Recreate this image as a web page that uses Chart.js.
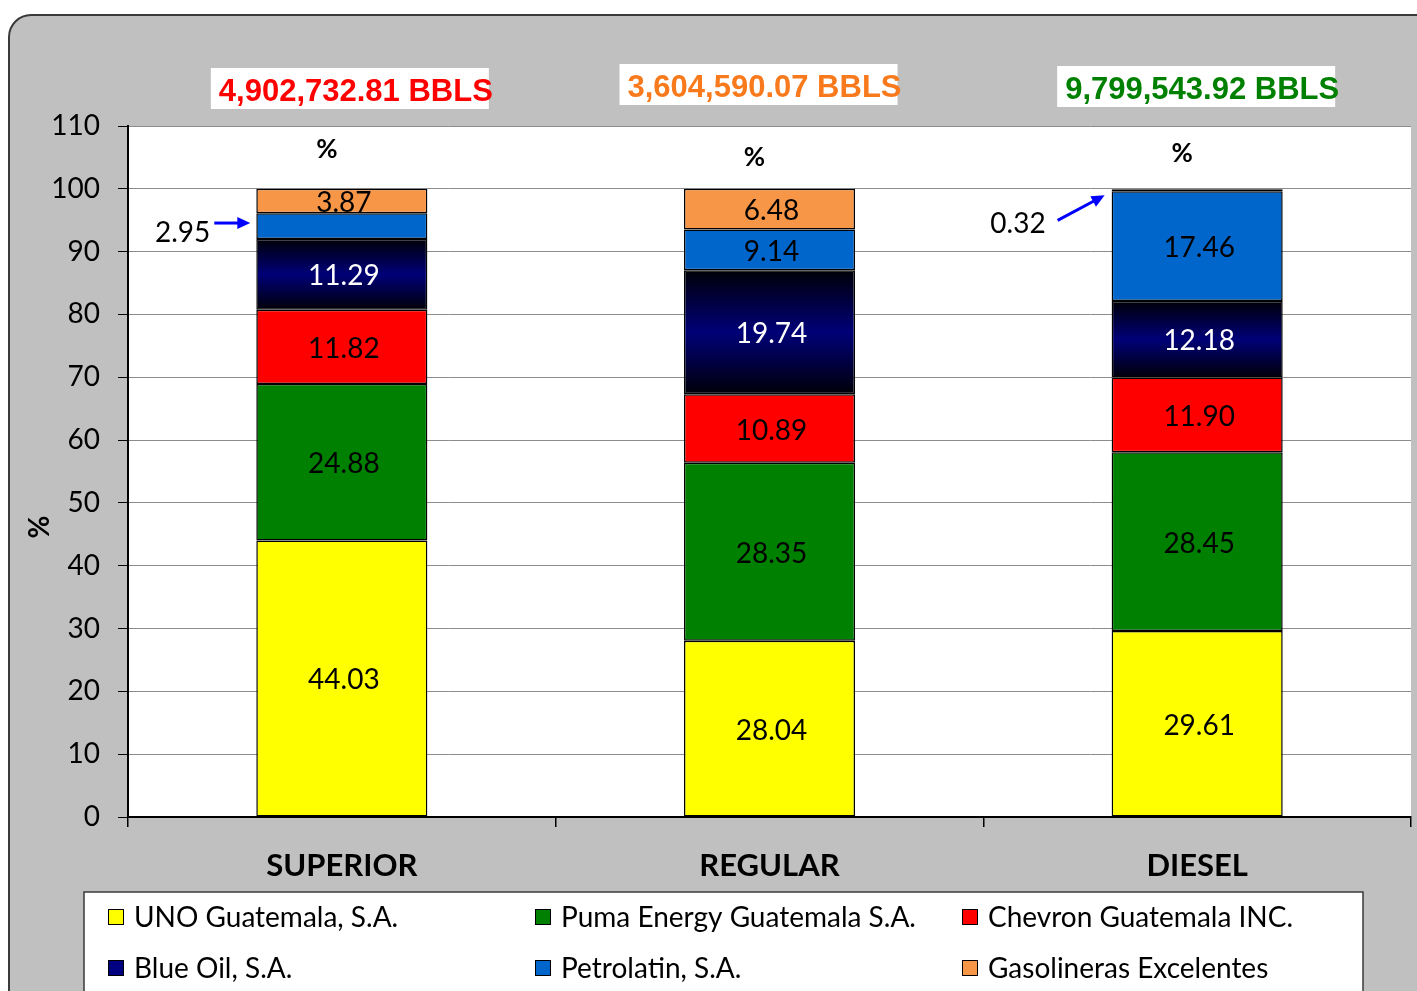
<!DOCTYPE html>
<html>
<head>
<meta charset="utf-8">
<script src="https://cdn.jsdelivr.net/npm/chart.js@4.4.0/dist/chart.umd.min.js"></script>
<style>
  html, body { margin: 0; padding: 0; background: #fff; }
  #wrap { width: 1417px; height: 991px; }
</style>
</head>
<body>
<div id="wrap"><canvas id="c" width="1417" height="991"></canvas></div>
<script>
// ---------- data ----------
const categories = ['SUPERIOR', 'REGULAR', 'DIESEL'];
const volumes = ['4,902,732.81 BBLS', '3,604,590.07 BBLS', '9,799,543.92 BBLS'];
const volumeColors = ['#ff0000', '#f97a1c', '#008000'];

const companies = ['UNO Guatemala, S.A.', 'Puma Energy Guatemala S.A.', 'Chevron Guatemala INC.',
                   'Blue Oil, S.A.', 'Petrolatin, S.A.', 'Gasolineras Excelentes'];
const colors = ['#ffff00', '#008000', '#ff0000', '#000080', '#0066cc', '#f79646'];

const uno         = [44.03, 28.04, 29.61];
const puma        = [24.88, 28.35, 28.45];
const chevron     = [11.82, 10.89, 11.90];
const blueOil     = [11.29, 19.74, 12.18];
const petrolatin  = [4.11, 6.50, 17.46];
const gasolineras = [3.87, 6.48, 0.32];

// printed label for petrolatin differs from drawn height in the source sheet
const petrolatinLabels = ['2.95', '9.14', '17.46'];

const FONT = 'Lato, "Open Sans", sans-serif';

// segments whose label sits outside with an arrow: [dataset, index]
const callouts = [[4, 0], [5, 2]];

function navyGradient(ctx) {
    const chart = ctx.chart;
    const y = chart.scales && chart.scales.y;
    if (!y || ctx.type !== 'data') return '#000080';
    let base = 0;
    for (let d = 0; d < ctx.datasetIndex; d++) base += chart.data.datasets[d].data[ctx.dataIndex];
    const top = y.getPixelForValue(base + ctx.raw);
    const bot = y.getPixelForValue(base);
    if (!isFinite(top) || !isFinite(bot) || top === bot) return '#000080';
    const g = chart.ctx.createLinearGradient(0, top, 0, bot);
    g.addColorStop(0, '#000008');
    g.addColorStop(0.5, '#000078');
    g.addColorStop(1, '#000008');
    return g;
}

const series = [uno, puma, chevron, blueOil, petrolatin, gasolineras];
const datasets = series.map((vals, i) => ({
    label: companies[i],
    data: vals,
    backgroundColor: i === 3 ? navyGradient : colors[i],
    borderColor: '#000',
    borderWidth: 1.5,
    borderSkipped: false,
    categoryPercentage: 0.4,
    barPercentage: 1
}));

// ---------- plugin for the extra drawing ----------
const decor = {
    id: 'decor',
    beforeDraw(chart) {
        const c = chart.ctx, a = chart.chartArea;
        c.save();
        c.fillStyle = '#fff';
        c.fillRect(0, 0, chart.width, chart.height);
        c.beginPath();
        c.roundRect(9, 15, 1460, 1040, 22);
        c.fillStyle = '#c0c0c0';
        c.fill();
        c.lineWidth = 2;
        c.strokeStyle = '#3a3a3a';
        c.stroke();
        c.fillStyle = '#fff';
        c.fillRect(a.left, a.top, a.right - a.left, a.bottom - a.top);
        c.restore();
    },
    afterDatasetsDraw(chart) {
        const c = chart.ctx;
        c.save();
        c.textAlign = 'center';
        c.textBaseline = 'middle';
        c.font = '28px ' + FONT;
        chart.data.datasets.forEach((ds, di) => {
            const meta = chart.getDatasetMeta(di);
            meta.data.forEach((bar, i) => {
                if (callouts.some(p => p[0] === di && p[1] === i)) return;
                const txt = di === 4 ? petrolatinLabels[i] : ds.data[i].toFixed(2);
                c.fillStyle = di === 3 ? '#fff' : '#000';
                c.fillText(txt, bar.x + 2, (bar.y + bar.base) / 2 + 2);
            });
        });

        // callouts with blue arrows
        const arrow = (x1, y1, x2, y2) => {
            const ang = Math.atan2(y2 - y1, x2 - x1);
            c.strokeStyle = '#0000ff';
            c.fillStyle = '#0000ff';
            c.lineWidth = 3;
            c.beginPath();
            c.moveTo(x1, y1);
            c.lineTo(x2 - 10 * Math.cos(ang), y2 - 10 * Math.sin(ang));
            c.stroke();
            c.beginPath();
            c.moveTo(x2, y2);
            c.lineTo(x2 - 13 * Math.cos(ang) + 6 * Math.sin(ang), y2 - 13 * Math.sin(ang) - 6 * Math.cos(ang));
            c.lineTo(x2 - 13 * Math.cos(ang) - 6 * Math.sin(ang), y2 - 13 * Math.sin(ang) + 6 * Math.cos(ang));
            c.closePath();
            c.fill();
        };
        c.textAlign = 'right';
        // Superior - Petrolatin
        let bar = chart.getDatasetMeta(4).data[0];
        let left = bar.x - bar.width / 2, mid = (bar.y + bar.base) / 2;
        arrow(left - 42, mid - 3, left - 6, mid - 3);
        c.fillStyle = '#000';
        c.fillText(petrolatinLabels[0], left - 46, mid + 7);
        // Diesel - Gasolineras
        bar = chart.getDatasetMeta(5).data[2];
        left = bar.x - bar.width / 2; mid = (bar.y + bar.base) / 2;
        arrow(left - 54, mid + 30, left - 7, mid + 5);
        c.fillStyle = '#000';
        c.fillText(gasolineras[2].toFixed(2), left - 66, mid + 34);
        c.restore();
    },
    afterDraw(chart) {
        const c = chart.ctx, x = chart.scales.x;
        c.save();
        c.textAlign = 'center';
        c.textBaseline = 'middle';
        // volume headers on white boxes
        const shift = [14, -5, 5];
        categories.forEach((cat, i) => {
            c.font = 'bold 31px "Liberation Sans", Arial, sans-serif';
            const cx = x.getPixelForValue(i) + shift[i];
            const w = c.measureText(volumes[i]).width;
            const cy = [89, 85, 87][i];
            c.fillStyle = '#fff';
            c.fillRect(cx - w / 2 - 8, cy - 21, w + 4, 41);
            c.fillStyle = volumeColors[i];
            c.fillText(volumes[i], cx, cy + 3);
            // % over each bar
            c.fillStyle = '#000';
            c.font = 'bold 26px ' + FONT;
            c.fillText('%', x.getPixelForValue(i) - 15, [150, 158, 154][i]);
        });
        // y axis title
        c.save();
        c.translate(40, 527);
        c.rotate(-Math.PI / 2);
        c.font = 'bold 28px ' + FONT;
        c.fillStyle = '#000';
        c.fillText('%', 0, 0);
        c.restore();

        // legend box
        c.fillStyle = '#fff';
        c.fillRect(84, 892, 1279, 120);
        c.strokeStyle = '#3a3a3a';
        c.lineWidth = 1.5;
        c.strokeRect(84, 892, 1279, 120);
        const cols = [108, 535, 962], rows = [917, 968];
        c.textAlign = 'left';
        c.font = '28px ' + FONT;
        companies.forEach((name, i) => {
            const lx = cols[i % 3], ly = rows[Math.floor(i / 3)];
            c.fillStyle = colors[i];
            c.fillRect(lx, ly - 8, 16, 16);
            c.strokeStyle = '#000';
            c.lineWidth = 1;
            c.strokeRect(lx + 0.5, ly - 7.5, 15, 15);
            c.fillStyle = '#000';
            c.fillText(name, lx + 26, ly + 1);
        });
        c.restore();
    }
};

new Chart(document.getElementById('c'), {
    type: 'bar',
    data: { labels: categories, datasets },
    options: {
        responsive: false,
        animation: false,
        layout: { padding: { top: 126, right: 6, left: 0, bottom: 0 } },
        plugins: { legend: { display: false }, tooltip: { enabled: false } },
        scales: {
            x: {
                stacked: true,
                grid: { drawOnChartArea: false, drawTicks: true, tickLength: 10, color: '#000', lineWidth: 1.5 },
                border: { color: '#000', width: 2 },
                ticks: { font: { family: FONT, size: 31, weight: 'bold' }, color: '#000', padding: 20 },
                afterFit(s) { s.height = 174; }
            },
            y: {
                stacked: true,
                min: 0, max: 110,
                ticks: { stepSize: 10, font: { family: FONT, size: 28 }, color: '#000', padding: 18 },
                grid: { color: '#8c8c8c', tickColor: '#000', tickLength: 10 },
                border: { color: '#000', width: 2 },
                afterFit(s) { s.width = 128; }
            }
        }
    },
    plugins: [decor]
});
</script>
</body>
</html>
